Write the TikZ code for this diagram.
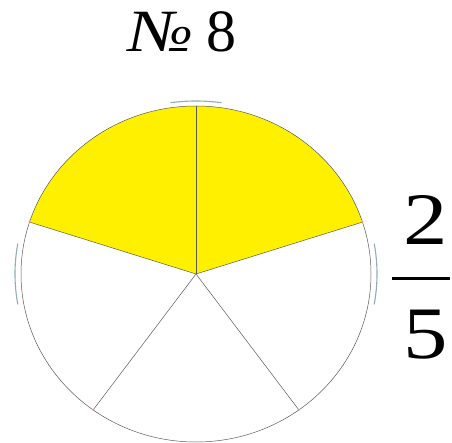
\documentclass[tikz,border=0pt]{standalone}
\usepackage{fontspec}
\setmainfont{Liberation Serif}
\usepackage{graphicx}
\usepackage{tikz}
\usetikzlibrary{calc,positioning}
\definecolor{Yel}{HTML}{FFF000}
\definecolor{Edge}{HTML}{5A5A5A}
\definecolor{Halo}{HTML}{8FADB3}
\definecolor{Dot}{HTML}{F08A8A}

\begin{document}
\begin{tikzpicture}[x=1pt,y=1pt,
    sector/.style={draw=Edge,line width=0.5pt,line join=round},
    halo/.style={draw=Halo,line width=1.1pt,line cap=round},
    digit/.style={inner sep=0pt,xscale=1.2,font=\fontsize{74}{74}\selectfont}]
  \useasboundingbox (0,0) rectangle (452,442);
  \coordinate (C) at (196,168);
  % vertices of the five parts
  \foreach \a/\n in {90/top,162/ul,234/ll,306/lr,18/ur}
    \coordinate (\n) at ($(C)+({175*cos(\a)},{168*sin(\a)})$);
  % shaded parts
  \fill[Yel] (C) -- (ur) arc[start angle=18,end angle=162,x radius=175,y radius=168] -- cycle;
  % outline and spokes
  \draw[sector] (C) ellipse[x radius=175,y radius=168];
  \foreach \n in {top,ul,ll,lr,ur}
    \draw[sector] (C) -- (\n);
  \foreach \n in {ul,ll,lr,ur}
    \fill[Dot] (\n) circle[radius=1.2];
  % faint rim marks
  \draw[halo] ($(C)+({181*cos(82)},{173*sin(82)})$) arc[start angle=82,end angle=98,x radius=181,y radius=173];
  \draw[halo] ($(C)+({181*cos(170)},{173*sin(170)})$) arc[start angle=170,end angle=190,x radius=181,y radius=173];
  \draw[halo] ($(C)+({181*cos(-10)},{173*sin(-10)})$) arc[start angle=-10,end angle=10,x radius=181,y radius=173];
  % labels
  \node[inner sep=0pt,font=\fontsize{60}{60}\selectfont,anchor=base west] (title) at (128,390)
    {\scalebox{1.15}[1]{\textit{№}}\hspace{13pt}8};
  \node[digit,anchor=base] (num) at (426,197) {2};
  \node[digit,anchor=base] (den) at (426,84) {5};
  \draw[line width=3pt] (392,164) -- (450,164);
\end{tikzpicture}
\end{document}
